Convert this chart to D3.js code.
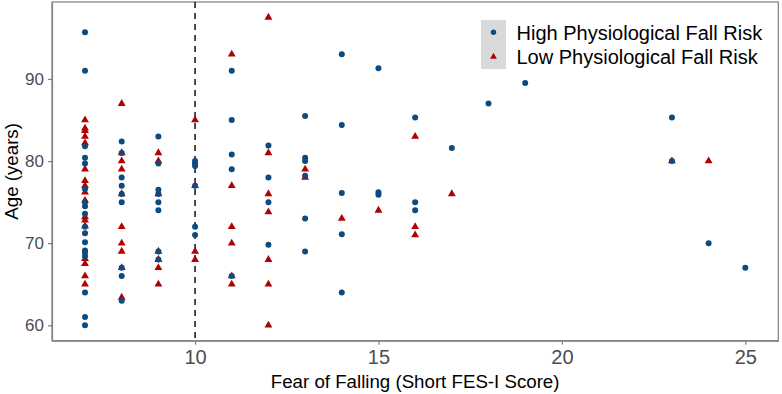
<!DOCTYPE html>
<html>
<head>
<meta charset="utf-8">
<script src="https://cdn.jsdelivr.net/npm/d3@7"></script>
<style>
  html, body { margin: 0; padding: 0; background: #fff; }
  svg { display: block; font-family: "Liberation Sans", Arial, sans-serif; }
</style>
</head>
<body>
<svg id="chart" width="782" height="394"></svg>
<script>
// ---- data (Short FES-I score, age) ----
const highRiskFES = [
  7,7,7,7,7,7,7,7,7,7,7,7,7,7,7,7,7,7,
  8,8,8,8,8,8,8,8,8,
  9,9,9,9,9,9,9,9,
  10,10,10,10,10,10,
  11,11,11,11,11,
  12,12,12,12,
  13,13,13,13,13,13,
  14,14,14,14,14,
  15,15,15,
  16,16,16,
  17,18,19,23,23,24,25
];
const highRiskAge = [
  95.7,91,81.8,80.4,79.7,76.6,75,74.5,73.6,72,71.2,70.1,69.1,68.8,68.4,64,61,60,
  82.4,81,78,77,76,75,67,66,63,
  83,79.7,76.5,76,75,74,69,68,
  80,79.7,79.4,77,72,71,
  91,85,80.8,79,66,
  81.9,78,75,69.8,
  85.5,80.4,80,78.2,73,69,
  93,84.4,76.1,71.1,64,
  91.3,76.2,75.9,
  85.3,75,74,
  81.6,87,89.5,85.3,80,70,67
];
const lowRiskFES = [
  7,7,7,7,7,7,7,7,7,7,7,7,7,7,7,7,7,
  8,8,8,8,8,8,8,8,8,8,
  9,9,9,9,9,9,9,
  10,10,10,10,
  11,11,11,11,11,11,
  12,12,12,12,12,12,12,
  13,13,14,15,
  16,16,16,
  17,23,24
];
const lowRiskAge = [
  85,84,83.7,83,82.2,79,77.6,77,76.2,75.2,73.2,72.8,72.1,68.1,67.5,66,65,
  87,81,80,79,76,72,70,69,67,63.4,
  81,80,76,69,68,67,65,
  85,77,69,68,
  93,77,72,70,66,65,
  97.5,81,76,73.8,68,65,60,
  79,78,73,74,
  83,72,71,
  76,80,80
];
const xTicks = [10, 15, 20, 25];
const yTicks = [60, 70, 80, 90];
const cutoff = 10;
const seriesNames = ["High Physiological Fall Risk", "Low Physiological Fall Risk"];
const seriesColors = ["#0d4a7e", "#b20000"];

// ---- layout ----
const svg = d3.select("#chart");
const pLeft = 52, pRight = 778.3, pTop = 2, pBottom = 340.7;
const allAge = highRiskAge.concat(lowRiskAge);
const allFes = highRiskFES.concat(lowRiskFES);
const [xmin, xmax] = d3.extent(allFes);
const [ymin, ymax] = d3.extent(allAge);
const xpad = (xmax - xmin) * 0.05, ypad = (ymax - ymin) * 0.05;
const x = d3.scaleLinear().domain([xmin - xpad, xmax + xpad]).range([pLeft, pRight]);
const y = d3.scaleLinear().domain([ymin - ypad, ymax + ypad]).range([pBottom, pTop]);

const axisColor = "#7f7f7f";

// panel border
svg.append("rect")
  .attr("x", pLeft).attr("y", pTop)
  .attr("width", pRight - pLeft).attr("height", pBottom - pTop)
  .attr("fill", "none").attr("stroke", axisColor).attr("stroke-width", 1.2);

// axes
const gx = svg.append("g").attr("transform", `translate(0,${pBottom})`)
  .call(d3.axisBottom(x).tickValues(xTicks).tickSize(4).tickSizeOuter(0).tickPadding(5).tickFormat(d3.format("d")));
gx.select(".domain").attr("stroke", axisColor).attr("stroke-width", 1.2);
gx.selectAll(".tick line").attr("stroke", axisColor).attr("stroke-width", 1.2);
gx.selectAll(".tick text").attr("fill", "#4d4d4d").style("font-size", "20px")
  .style("font-family", "'Liberation Sans', Arial, sans-serif");

const gy = svg.append("g").attr("transform", `translate(${pLeft},0)`)
  .call(d3.axisLeft(y).tickValues(yTicks).tickSize(4).tickSizeOuter(0).tickPadding(4).tickFormat(d3.format("d")));
gy.select(".domain").attr("stroke", axisColor).attr("stroke-width", 1.2);
gy.selectAll(".tick line").attr("stroke", axisColor).attr("stroke-width", 1.2);
gy.selectAll(".tick text").attr("fill", "#4d4d4d").style("font-size", "17px")
  .style("font-family", "'Liberation Sans', Arial, sans-serif");

// dashed cutoff line
svg.append("line")
  .attr("x1", x(cutoff)).attr("x2", x(cutoff))
  .attr("y1", pTop).attr("y2", pBottom)
  .attr("stroke", "#000").attr("stroke-width", 1.4)
  .attr("stroke-dasharray", "6,5");

// points: low risk (triangles) first, then high risk (dots) on top
const lowData = lowRiskFES.map((f, i) => ({ f, a: lowRiskAge[i] }));
const highData = highRiskFES.map((f, i) => ({ f, a: highRiskAge[i] }));
const tri = d3.symbol().type(d3.symbolTriangle).size(27);

svg.append("g").selectAll("path").data(lowData).join("path")
  .attr("d", tri)
  .attr("transform", d => `translate(${x(d.f)},${y(d.a)})`)
  .attr("fill", seriesColors[1]);

svg.append("g").selectAll("circle").data(highData).join("circle")
  .attr("cx", d => x(d.f)).attr("cy", d => y(d.a)).attr("r", 3)
  .attr("fill", seriesColors[0]);

// axis titles
svg.append("text")
  .attr("x", (pLeft + pRight) / 2).attr("y", 388)
  .attr("text-anchor", "middle").style("font-size", "18.7px").attr("fill", "#000")
  .text("Fear of Falling (Short FES-I Score)");
svg.append("text")
  .attr("transform", `translate(18,${(pTop + pBottom) / 2}) rotate(-90)`)
  .attr("text-anchor", "middle").style("font-size", "18.7px").attr("fill", "#000")
  .text("Age (years)");

// legend
const lg = svg.append("g");
lg.append("rect").attr("x", 481).attr("y", 20).attr("width", 25).attr("height", 49)
  .attr("fill", "#d9d9d9");
const rowY = [32.3, 56.7];
lg.append("circle").attr("cx", 493.5).attr("cy", rowY[0]).attr("r", 2.7).attr("fill", seriesColors[0]);
lg.append("path").attr("d", d3.symbol().type(d3.symbolTriangle).size(20))
  .attr("transform", `translate(493.5,${rowY[1]})`).attr("fill", seriesColors[1]);
seriesNames.forEach((n, i) => {
  lg.append("text").attr("x", 516.5).attr("y", rowY[i] + 7.5)
    .style("font-size", "20px").attr("fill", "#000").text(n);
});
</script>
</body>
</html>
